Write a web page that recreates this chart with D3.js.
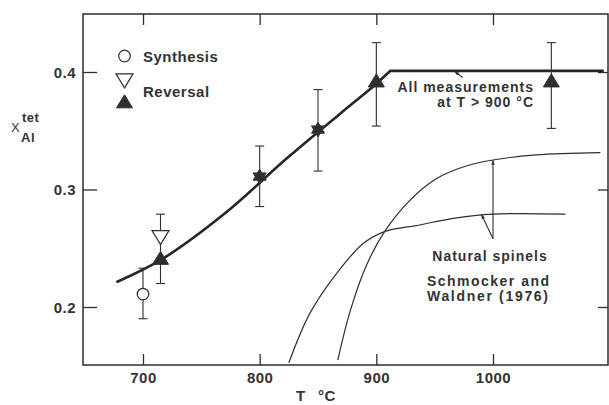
<!DOCTYPE html>
<html><head><meta charset="utf-8">
<script src="https://cdn.jsdelivr.net/npm/d3@7"></script>
<style>
html,body{margin:0;padding:0;background:#fff;}
text{font-family:"Liberation Sans",Arial,sans-serif;font-weight:bold;fill:#333;letter-spacing:0.5px;}
</style></head>
<body>
<svg id="c" width="609" height="405"></svg>
<script>
// ---- data ----
const xTicks = [700, 800, 900, 1000];
const xTickLabels = ["700", "800", "900", "1000"];
const yTicks = [0.2, 0.3, 0.4];
const yTickLabels = ["0.2", "0.3", "0.4"];

// fitted curve of this study: smooth part, then kink and plateau
const mainT = [678, 716, 770, 825, 875, 899];
const mainX = [0.2215, 0.2405, 0.2795, 0.328, 0.3695, 0.389];
const plateauT = [899, 912, 1094];
const plateauX = [0.389, 0.401, 0.401];

// natural spinels, Schmocker and Waldner (1976)
const natAT = [867, 877, 891, 907, 929, 952, 975, 1000, 1037, 1092];
const natAX = [0.1549, 0.1946, 0.2343, 0.2641, 0.291, 0.3095, 0.3194, 0.3251, 0.3294, 0.3313];
const natBT = [825, 843, 866, 889, 907, 937, 966, 1000, 1062];
const natBX = [0.1526, 0.1946, 0.2287, 0.2542, 0.2641, 0.2698, 0.2755, 0.2791, 0.279];

// measurements
const synT = [700];
const synX = [0.211];
const synLo = [0.190];
const synHi = [0.233];

const revDownT = [715, 800, 850];
const revDownX = [0.261, 0.311, 0.351];
const revUpT = [715, 800, 850, 900, 1050];
const revUpX = [0.240, 0.311, 0.351, 0.391, 0.391];
const revBarT = [715, 800, 850, 900, 1050];
const revLo = [0.220, 0.2855, 0.3157, 0.354, 0.352];
const revHi = [0.279, 0.337, 0.385, 0.425, 0.425];

// ---- drawing ----
const svg = d3.select("#c");
const ink = "#2e2e2e";
const x = d3.scaleLinear().domain([700, 1000]).range([143, 493]);
const y = d3.scaleLinear().domain([0.2, 0.4]).range([307, 72]);
const L = 83, R = 608, T = 14, B = 365;

// frame
svg.append("rect").attr("x", L).attr("y", T).attr("width", R - L).attr("height", B - T)
  .attr("fill", "none").attr("stroke", ink).attr("stroke-width", 1.5);

// axes
const axB = d3.axisBottom(x).tickValues(xTicks).tickSizeInner(-11).tickSizeOuter(0).tickPadding(7)
  .tickFormat((d, i) => xTickLabels[i]);
const gB = svg.append("g").attr("transform", `translate(0,${B})`).call(axB);
const axT = d3.axisTop(x).tickValues(xTicks).tickSizeInner(-11).tickSizeOuter(0).tickFormat("");
const gT = svg.append("g").attr("transform", `translate(0,${T})`).call(axT);
const axL = d3.axisLeft(y).tickValues(yTicks).tickSizeInner(-14).tickSizeOuter(0).tickPadding(7)
  .tickFormat((d, i) => yTickLabels[i]);
const gL = svg.append("g").attr("transform", `translate(${L},0)`).call(axL);
const axR = d3.axisRight(y).tickValues(yTicks).tickSizeInner(-10).tickSizeOuter(0).tickFormat("");
const gR = svg.append("g").attr("transform", `translate(${R},0)`).call(axR);
[gB, gT, gL, gR].forEach(g => {
  g.select(".domain").remove();
  g.selectAll(".tick line").attr("stroke", ink).attr("stroke-width", 1.3);
  g.selectAll(".tick text").attr("font-size", 15).attr("fill", "#333")
    .style("font-family", '"Liberation Sans",Arial,sans-serif').style("font-weight", "bold");
});
gL.selectAll(".tick text").attr("dy", "0.35em");

// curves
const pts = (ts, xs) => ts.map((t, i) => [t, xs[i]]);
const smooth = d3.line().x(d => x(d[0])).y(d => y(d[1])).curve(d3.curveCatmullRom.alpha(0.5));
const straight = d3.line().x(d => x(d[0])).y(d => y(d[1]));
svg.append("path").attr("d", smooth(pts(natAT, natAX))).attr("fill", "none").attr("stroke", ink).attr("stroke-width", 1.2);
svg.append("path").attr("d", smooth(pts(natBT, natBX))).attr("fill", "none").attr("stroke", ink).attr("stroke-width", 1.2);
svg.append("path").attr("d", smooth(pts(mainT, mainX))).attr("fill", "none").attr("stroke", "#262626")
  .attr("stroke-width", 2.6).attr("stroke-linecap", "round");
svg.append("path").attr("d", straight(pts(plateauT, plateauX))).attr("fill", "none").attr("stroke", "#262626")
  .attr("stroke-width", 2.6).attr("stroke-linecap", "round").attr("stroke-linejoin", "round");

// pointers
function pointer(t1, v1, t2, v2) {
  svg.append("line").attr("x1", x(t1)).attr("y1", y(v1)).attr("x2", x(t2)).attr("y2", y(v2))
    .attr("stroke", ink).attr("stroke-width", 1.1);
  const ang = Math.atan2(y(v2) - y(v1), x(t2) - x(t1));
  const a = 5, w = 0.35;
  const p = [[x(t1), y(v1)],
    [x(t1) + a * Math.cos(ang - w), y(v1) + a * Math.sin(ang - w)],
    [x(t1) + a * Math.cos(ang + w), y(v1) + a * Math.sin(ang + w)]];
  svg.append("path").attr("d", "M" + p.join("L") + "Z").attr("fill", ink);
}
pointer(1000, 0.3251, 1000, 0.258);
pointer(990, 0.2789, 1000, 0.258);
pointer(967, 0.4005, 974, 0.3953);

// error bars
function errbar(t, lo, hi) {
  const g = svg.append("g").attr("stroke", ink).attr("stroke-width", 1.1);
  g.append("line").attr("x1", x(t)).attr("x2", x(t)).attr("y1", y(lo)).attr("y2", y(hi));
  g.append("line").attr("x1", x(t) - 4.5).attr("x2", x(t) + 4.5).attr("y1", y(lo)).attr("y2", y(lo));
  g.append("line").attr("x1", x(t) - 4.5).attr("x2", x(t) + 4.5).attr("y1", y(hi)).attr("y2", y(hi));
}
synT.forEach((t, i) => errbar(t, synLo[i], synHi[i]));
revBarT.forEach((t, i) => errbar(t, revLo[i], revHi[i]));

// markers
const triUp = (cx, cy, hw, h) => `M${cx},${cy - h * 2 / 3}L${cx + hw},${cy + h / 3}L${cx - hw},${cy + h / 3}Z`;
const triDown = (cx, cy, hw, h) => `M${cx},${cy + h * 2 / 3}L${cx + hw},${cy - h / 3}L${cx - hw},${cy - h / 3}Z`;

synT.forEach((t, i) => svg.append("circle").attr("cx", x(t)).attr("cy", y(synX[i])).attr("r", 5.8)
  .attr("fill", "#fff").attr("stroke", ink).attr("stroke-width", 1.2));

revDownT.forEach((t, i) => {
  const star = revUpT.some((u, j) => u === t && revUpX[j] === revDownX[i]);
  if (star) {
    svg.append("path").attr("d", triDown(x(t), y(revDownX[i]), 6.5, 11)).attr("fill", "#333").attr("stroke", "#333").attr("stroke-width", 1);
  } else {
    svg.append("path").attr("d", triDown(x(t), y(revDownX[i]), 8.5, 14)).attr("fill", "#fff").attr("stroke", ink).attr("stroke-width", 1.2);
  }
});
revUpT.forEach((t, i) => {
  const star = revDownT.some((u, j) => u === t && revDownX[j] === revUpX[i]);
  const hw = star ? 6.5 : 8, h = star ? 11 : 13;
  svg.append("path").attr("d", triUp(x(t), y(revUpX[i]), hw, h)).attr("fill", "#2e2e2e").attr("stroke", "#2e2e2e").attr("stroke-width", 1);
});

// legend
svg.append("circle").attr("cx", 124.5).attr("cy", 56).attr("r", 5.8).attr("fill", "#fff").attr("stroke", ink).attr("stroke-width", 1.2);
svg.append("path").attr("d", triDown(124.5, 78.5, 8.5, 14)).attr("fill", "#fff").attr("stroke", ink).attr("stroke-width", 1.2);
svg.append("path").attr("d", triUp(124.5, 103.5, 8, 13)).attr("fill", "#2e2e2e").attr("stroke", "#2e2e2e").attr("stroke-width", 1);
const txt = (s, tx, ty, size, anchor) => svg.append("text").attr("x", tx).attr("y", ty)
  .attr("font-size", size).attr("text-anchor", anchor || "start").text(s);
txt("Synthesis", 143, 61.5, 15);
txt("Reversal", 143, 96.5, 15);

// annotations
txt("All measurements", 534, 91.5, 14, "end").style("letter-spacing", "1px");
txt("at T > 900 °C", 534, 106.5, 14, "end").style("letter-spacing", "1px");
txt("Natural spinels", 490, 260.5, 14, "middle").style("letter-spacing", "1px");
txt("Schmocker and", 427, 285.5, 14).attr("textLength", 122).attr("lengthAdjust", "spacing").style("letter-spacing", "0px");
txt("Waldner (1976)", 427, 300.5, 14).attr("textLength", 121).attr("lengthAdjust", "spacing").style("letter-spacing", "0px");

// axis titles
txt("T", 296, 401, 15);
txt("°C", 318, 401, 15);
txt("X", 11, 132, 13).style("font-weight", "normal");
txt("tet", 22, 122, 13);
txt("Al", 21, 142, 13);
</script>
</body></html>
